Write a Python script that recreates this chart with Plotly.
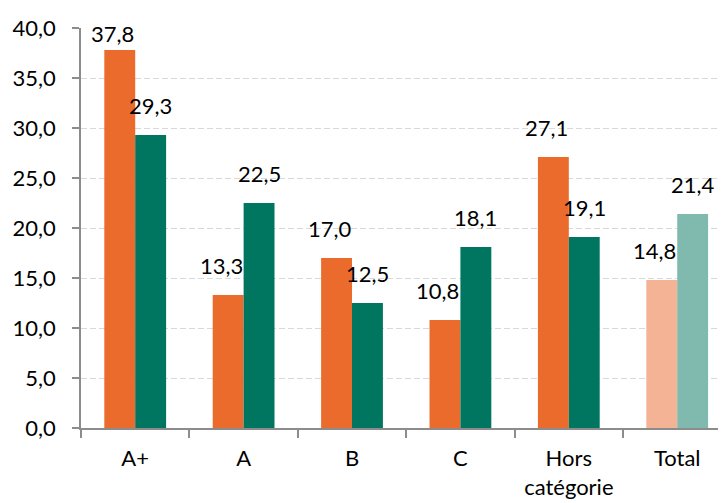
import plotly.graph_objects as go

categories = ["A+", "A", "B", "C", "Hors<br>catégorie", "Total"]
serie_orange = [37.8, 13.3, 17.0, 10.8, 27.1, 14.8]
serie_vert = [29.3, 22.5, 12.5, 18.1, 19.1, 21.4]
y_ticks = [0, 5, 10, 15, 20, 25, 30, 35, 40]

# label vertical offsets (px) above each bar
decalage_orange = [1, 14, 14, 14, 14, 14]
decalage_vert = [14, 14, 14, 14, 14, 14]

orange = "#EB6B2D"
orange_clair = "#F4B394"
vert = "#007560"
vert_clair = "#80BAAF"

font = dict(family="Lato, 'Open Sans', sans-serif", size=22, color="#000000")

BARGAP = 0.43
half = (1 - BARGAP) / 4  # center offset of each bar in a group

fig = go.Figure()
fig.add_trace(go.Bar(
    x=categories, y=serie_orange,
    marker=dict(color=[orange] * 5 + [orange_clair], line=dict(width=0)),
    showlegend=False, hoverinfo="y",
))
fig.add_trace(go.Bar(
    x=categories, y=serie_vert,
    marker=dict(color=[vert] * 5 + [vert_clair], line=dict(width=0)),
    showlegend=False, hoverinfo="y",
))

def fmt(v):
    return f"{v:.1f}".replace(".", ",")

annotations = []
for i, v in enumerate(serie_orange):
    annotations.append(dict(x=i - half, y=v, xref="x", yref="y", text=fmt(v),
                            showarrow=False, yanchor="bottom", xanchor="center",
                            xshift=-7, yshift=decalage_orange[i], font=font))
for i, v in enumerate(serie_vert):
    annotations.append(dict(x=i + half, y=v, xref="x", yref="y", text=fmt(v),
                            showarrow=False, yanchor="bottom", xanchor="center",
                            yshift=decalage_vert[i], font=font))

fig.update_layout(
    width=726, height=503,
    margin=dict(l=73, r=8, t=20, b=83, autoexpand=False),
    paper_bgcolor="white", plot_bgcolor="white",
    separators=", ",
    barmode="group", bargap=BARGAP, bargroupgap=0,
    font=font,
    annotations=annotations,
)
fig.update_xaxes(
    range=[-0.5, 5.45], automargin=False,
    showline=True, linecolor="#8C8C8C", linewidth=1.5,
    ticks="outside", tickson="boundaries", ticklen=8, tickcolor="#8C8C8C", tickwidth=1.5,
    showgrid=False, tickfont=font, ticklabelstandoff=10,
)
fig.update_yaxes(
    range=[0, 40], tickvals=y_ticks, tickformat=".1f", automargin=False,
    showline=True, linecolor="#8C8C8C", linewidth=1.5,
    ticks="outside", ticklen=7, tickcolor="#8C8C8C", tickwidth=1.5,
    showgrid=True, gridcolor="#D9D9D9", griddash="6px,3px", gridwidth=1,
    zeroline=False, tickfont=font, ticklabelstandoff=12,
)

fig.write_html("out.html")
